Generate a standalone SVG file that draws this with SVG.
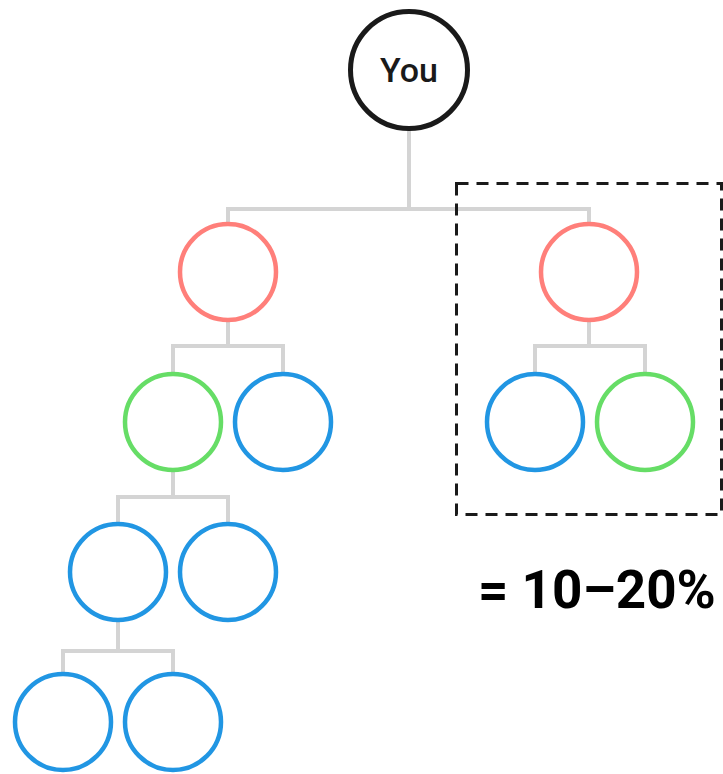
<svg xmlns="http://www.w3.org/2000/svg" width="723" height="774" viewBox="0 0 723 774">
<style>
.c{fill:#fff;stroke-width:4.5}
.r{stroke:#ff7f7a}.g{stroke:#66dd66}.b{stroke:#2196e3}
.l{fill:none;stroke:#d4d4d4;stroke-width:4}
</style>
<rect width="723" height="774" fill="#fff"/>
<g id="connectors">
<path class="l" d="M409 130V209M228 224V209H589V224"/>
<path class="l" d="M228 320V346M173 374V346H283V374"/>
<path class="l" d="M589 320V346M535 374V346H645V374"/>
<path class="l" d="M173 470V497M118 524V497H228V524"/>
<path class="l" d="M118 621V651M63 674V651H173V674"/>
</g>
<g id="box"><rect x="456.5" y="183.5" width="265" height="331" fill="none" stroke="#1a1a1a" stroke-width="3" stroke-dasharray="12 8"/></g>
<g id="you"><circle cx="409" cy="70" r="58.5" fill="#fff" stroke="#1a1a1a" stroke-width="5"/>
<text x="409" y="82" text-anchor="middle" font-family="Roboto, sans-serif" font-weight="500" font-size="34" fill="#1a1a1a">You</text></g>
<g id="n1"><circle class="c r" cx="228" cy="272" r="48"/></g>
<g id="n2"><circle class="c r" cx="589" cy="272" r="48"/></g>
<g id="n3"><circle class="c g" cx="173" cy="422" r="48"/></g>
<g id="n4"><circle class="c b" cx="283" cy="422" r="48"/></g>
<g id="n5"><circle class="c b" cx="535" cy="422" r="48"/></g>
<g id="n6"><circle class="c g" cx="645" cy="422" r="48"/></g>
<g id="n7"><circle class="c b" cx="118" cy="572" r="48"/></g>
<g id="n8"><circle class="c b" cx="228" cy="572" r="48"/></g>
<g id="n9"><circle class="c b" cx="63" cy="722" r="48"/></g>
<g id="n10"><circle class="c b" cx="173" cy="722" r="48"/></g>
<g id="label"><text x="478" y="608" font-family="Roboto, sans-serif" font-weight="700" font-size="53" fill="#000">= 10–20%</text></g>
</svg>
